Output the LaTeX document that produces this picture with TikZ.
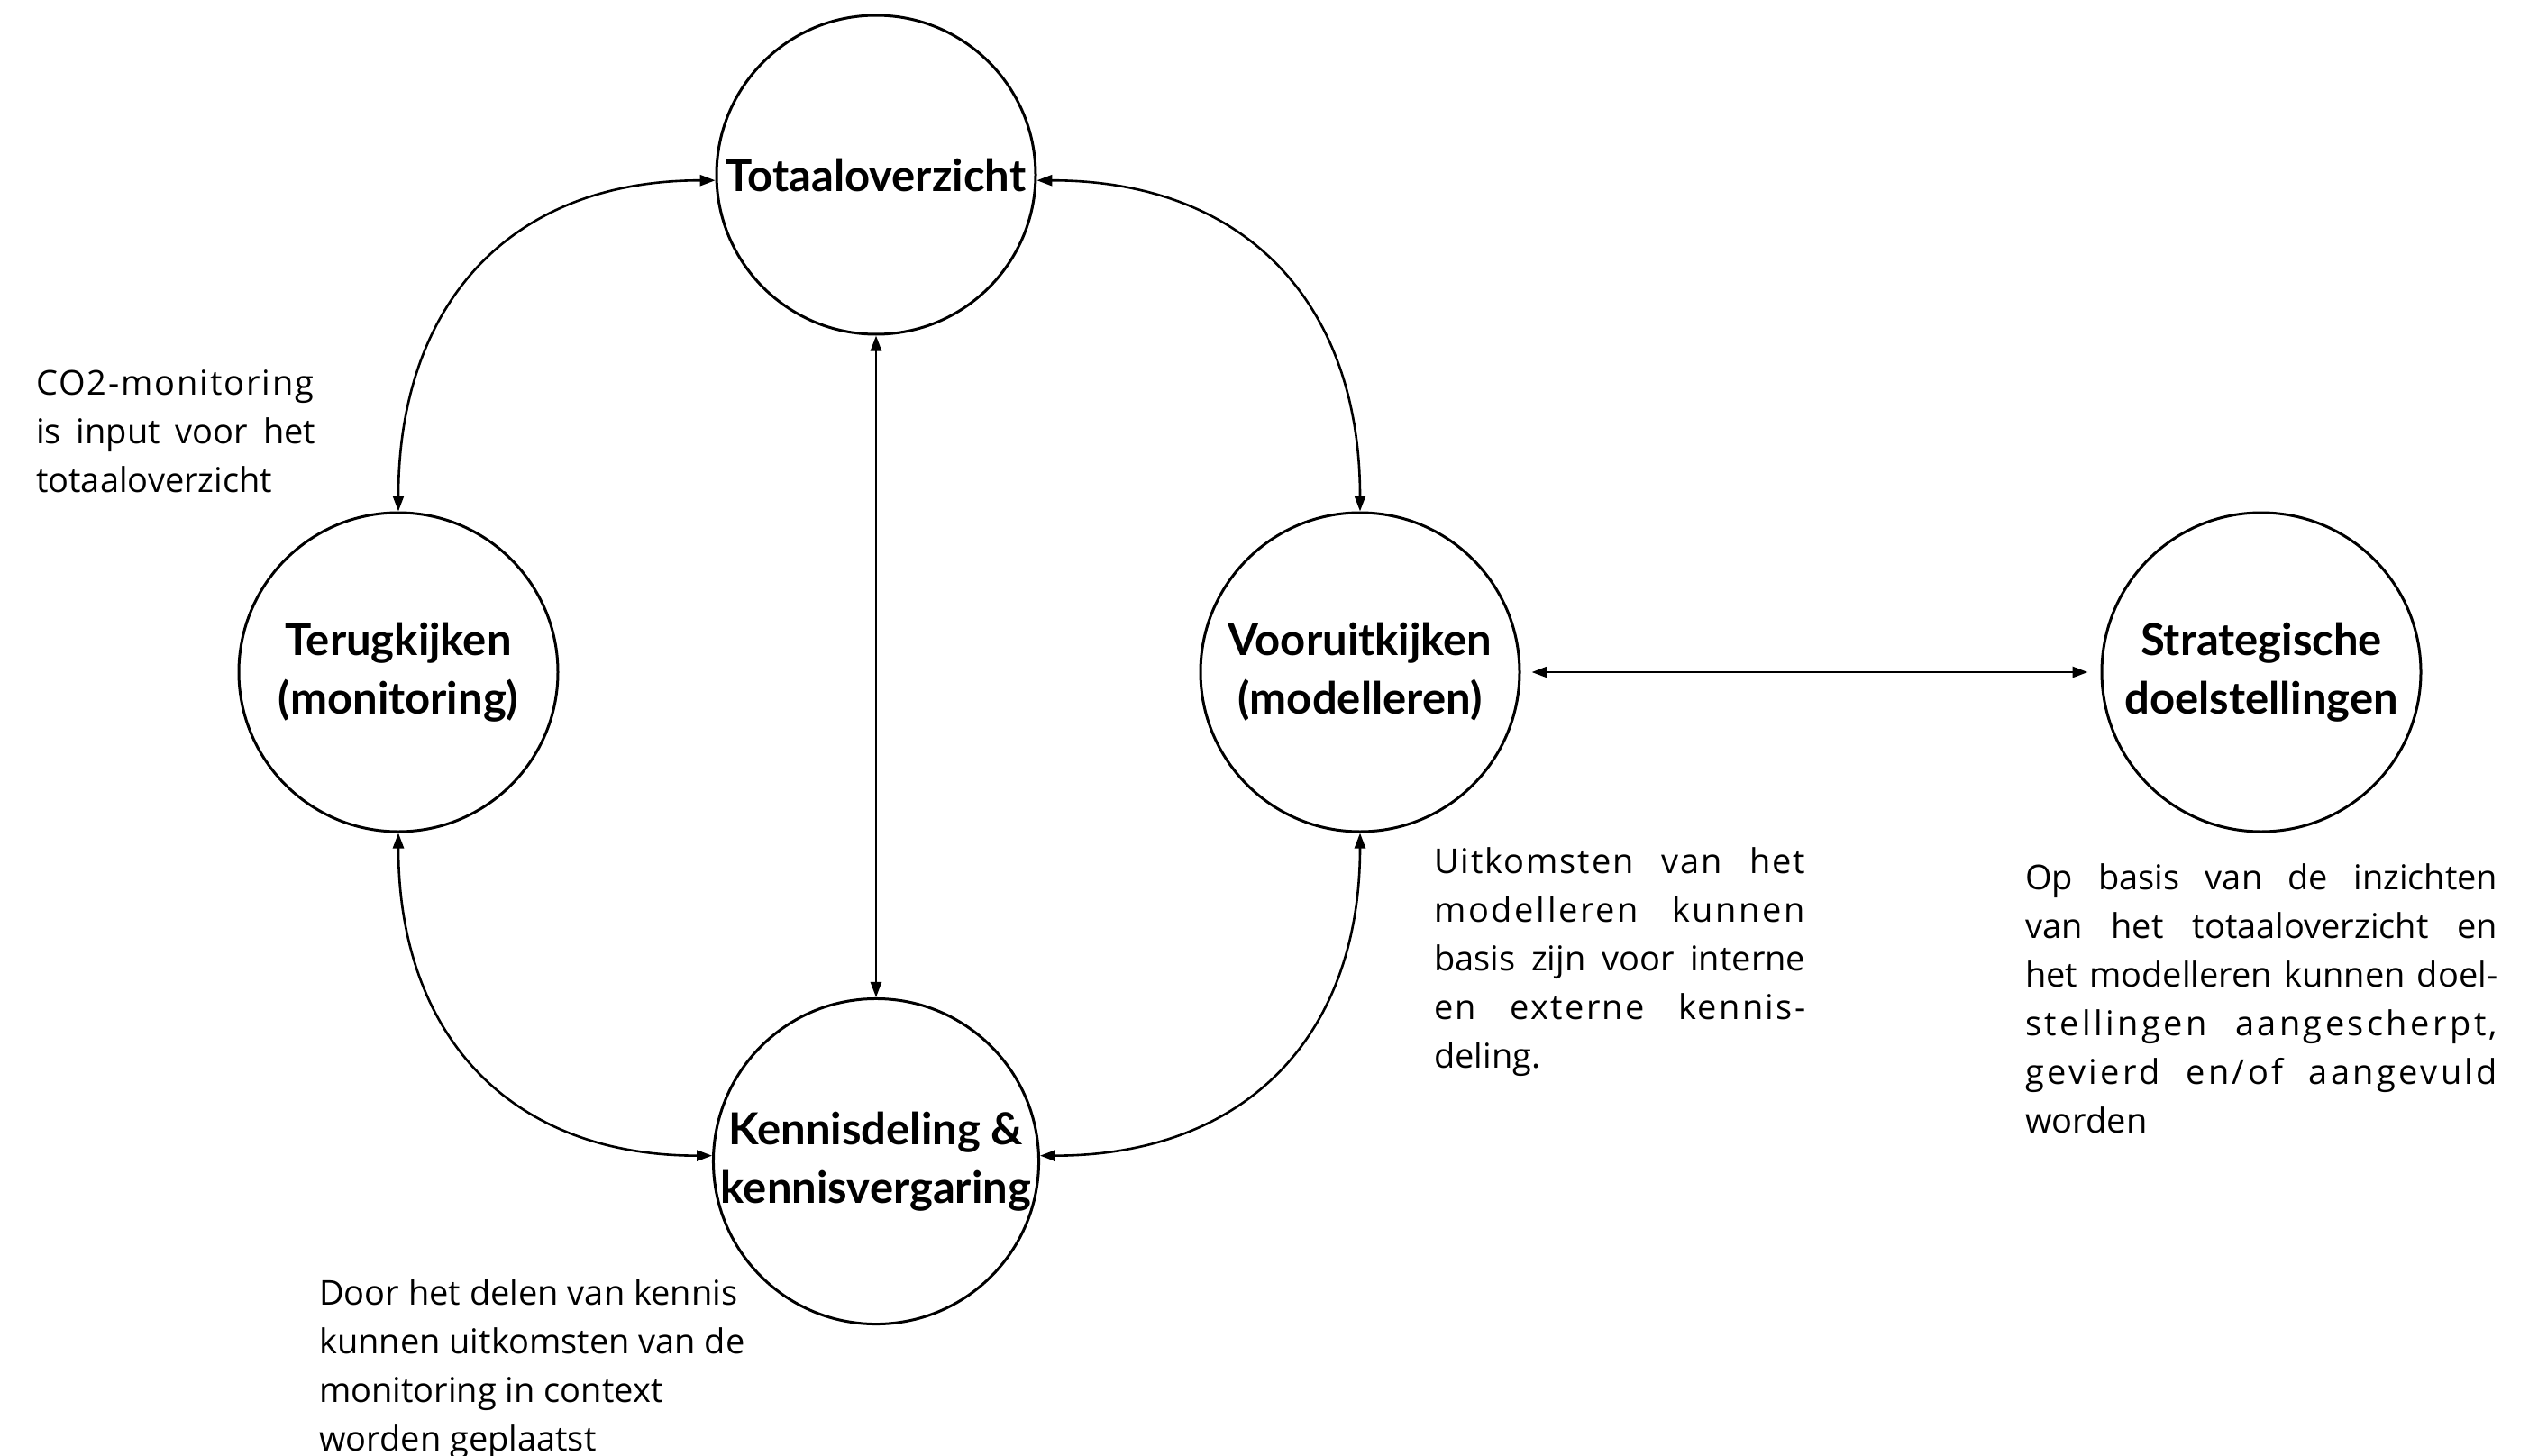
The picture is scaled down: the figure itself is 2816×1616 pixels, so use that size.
\documentclass[tikz,border=0pt]{standalone}
\usepackage{fontspec}
\setmainfont{Lato}
\newfontfamily\notefont{Open Sans}
\usetikzlibrary{arrows.meta}
\tikzset{
  stage/.style={circle,draw,line width=3pt,minimum size=354pt,inner sep=0pt,align=center,
    font=\fontsize{49}{65}\selectfont\bfseries},
  link/.style={line width=2.6pt,{Triangle[length=17pt,width=12pt]}-{Triangle[length=17pt,width=12pt]}},
  note/.style={inner sep=0pt,anchor=north west,align=left,font=\notefont\fontsize{38}{54}\selectfont}
}
\newcommand{\jl}[3][0]{\makebox[#2][s]{\addfontfeature{LetterSpace=#1}#3}}
\begin{document}
\begin{tikzpicture}[x=1pt,y=-1pt]
\useasboundingbox (0,0) rectangle (2816,1616);
\node[stage] (T) at (972,194) {Totaaloverzicht};
\node[stage] (R) at (442,746) {Terugkijken\\(monitoring)};
\node[stage] (V) at (1509,746) {Vooruitkijken\\(modelleren)};
\node[stage] (S) at (2509,746) {Strategische\\doelstellingen};
\node[stage] (K) at (972,1289) {Kennisdeling \&\\kennisvergaring};

\draw[link] (T.182) to[out=180,in=90,looseness=1.15] (R.north);
\draw[link] (T.358) to[out=0,in=90,looseness=1.15] (V.north);
\draw[link] (R.south) to[out=-90,in=180,looseness=1.15] (K.178);
\draw[link] (V.south) to[out=-90,in=0,looseness=1.15] (K.2);
\draw[link] (T.south) -- (K.north);
\draw[link,shorten <=12pt,shorten >=14pt] (V.east) -- (S.west);

\node[note] (n1) at (40,410) {\jl[5]{310pt}{CO2-monitoring}\\\jl{310pt}{is input voor het}\\totaaloverzicht};
\node[note] (n2) at (1591,940) {\jl[5]{412pt}{Uitkomsten van het}\\\jl[7]{412pt}{modelleren kunnen}\\\jl{412pt}{basis zijn voor interne}\\\jl[6]{412pt}{en externe kennis-}\\deling.};
\node[note] (n3) at (2247,958) {\jl{524pt}{Op basis van de inzichten}\\\jl{524pt}{van het totaaloverzicht en}\\\jl{524pt}{het modelleren kunnen doel-}\\\jl[9]{524pt}{stellingen aangescherpt,}\\\jl[9]{524pt}{gevierd en/of aangevuld}\\worden};
\node[note] (n4) at (354,1419) {Door het delen van kennis\\kunnen uitkomsten van de\\monitoring in context\\worden geplaatst};
\end{tikzpicture}
\end{document}
